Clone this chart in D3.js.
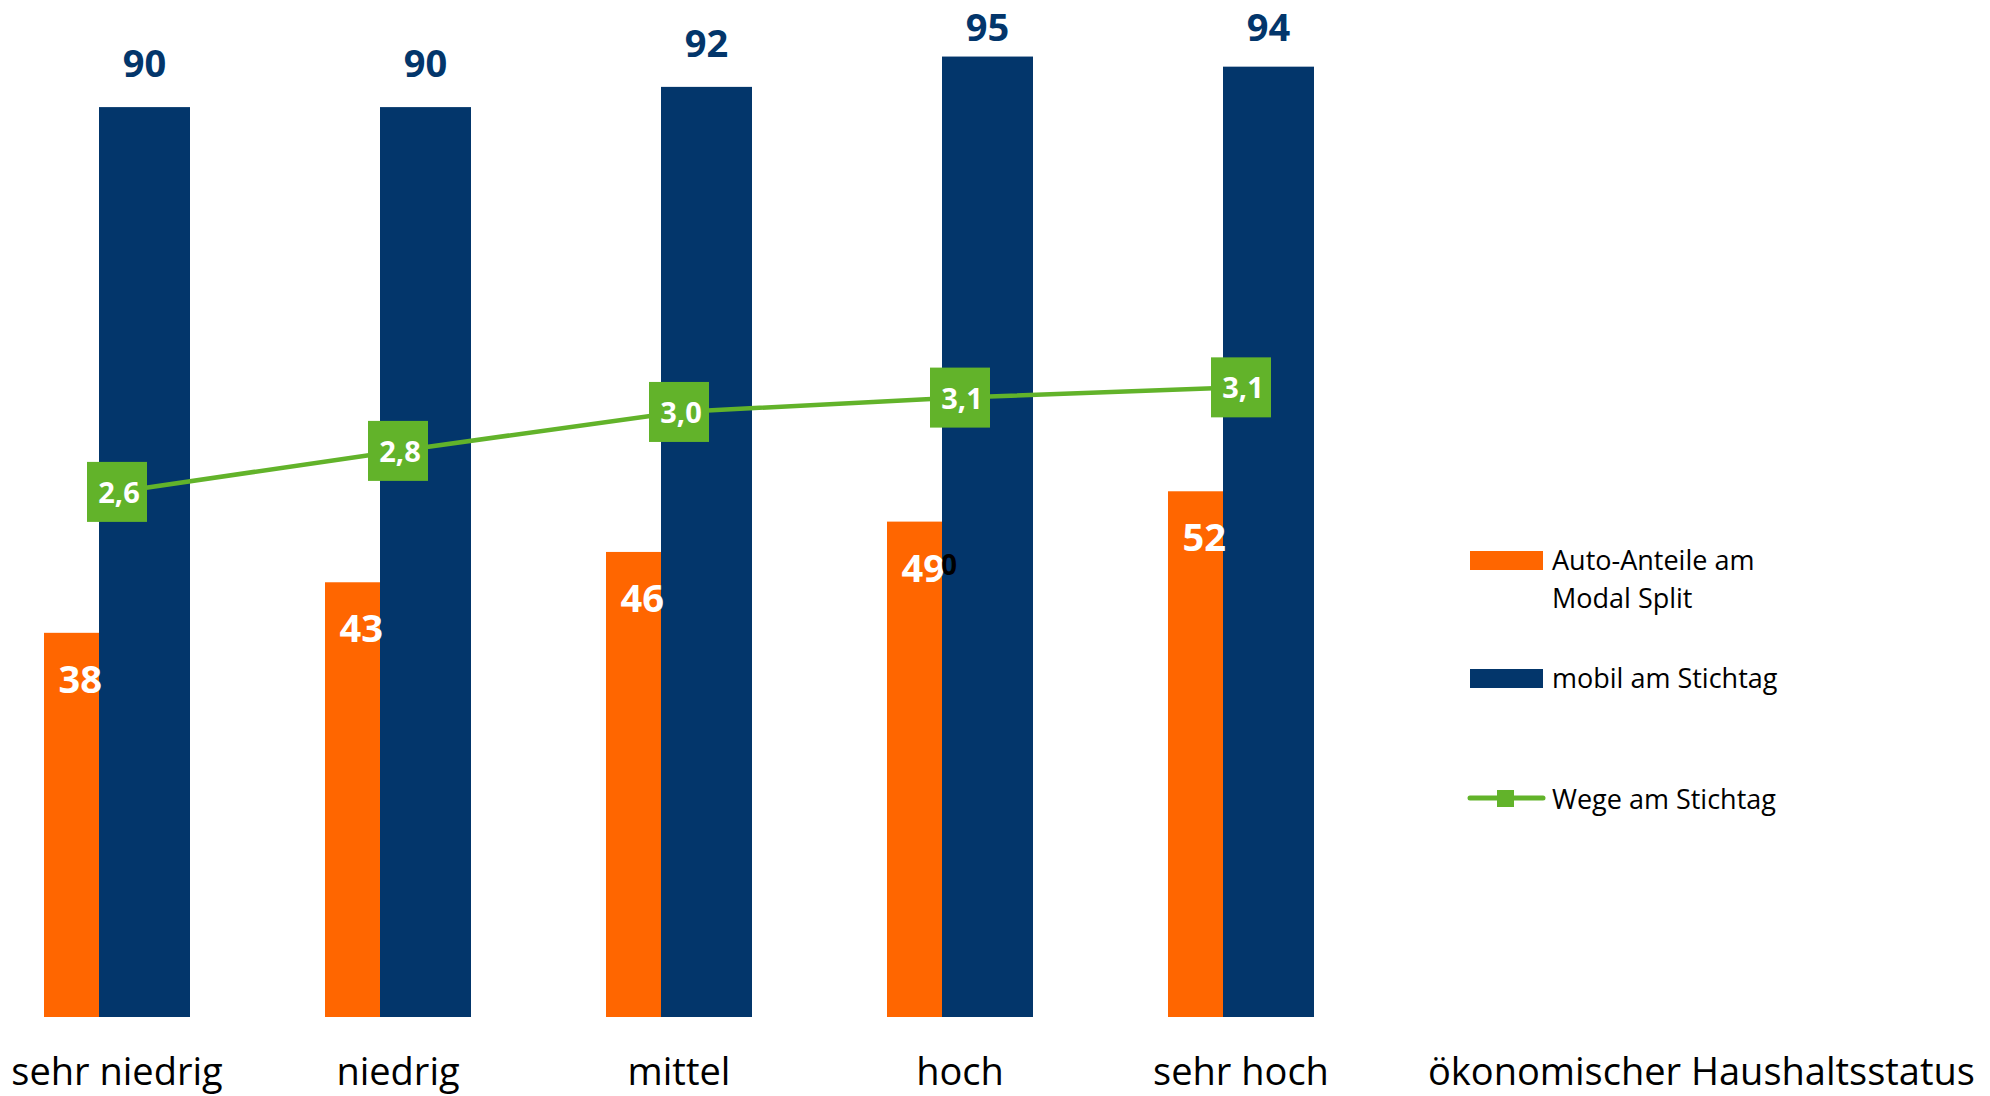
<!DOCTYPE html>
<html>
<head>
<meta charset="utf-8">
<script src="https://cdn.jsdelivr.net/npm/d3@7"></script>
<style>
  body { margin: 0; background: #fff; }
  svg text { font-family: "Open Sans", "Noto Sans", sans-serif; }
</style>
</head>
<body>
<div id="chart"></div>
<script>
// values
var categories = ["sehr niedrig", "niedrig", "mittel", "hoch", "sehr hoch"];
var autoAnteile = [38, 43, 46, 49, 52];
var mobil = [90, 90, 92, 95, 94];
var wege = [2.62, 2.82, 3.01, 3.08, 3.13];
var legendLabels = [["Auto-Anteile am", "Modal Split"], ["mobil am Stichtag"], ["Wege am Stichtag"]];
var axisTitle = "ökonomischer Haushaltsstatus";

var width = 1990, height = 1096;
var orange = "#ff6600", navy = "#03366b", green = "#62b32a";

var svg = d3.select("#chart").append("svg")
  .attr("width", width)
  .attr("height", height);

var x = d3.scalePoint().domain(categories).range([117, 1241]);
var y = d3.scaleLinear().domain([0, 100]).range([1017, 6]);
var y2 = d3.scaleLinear().domain([2, 4]).range([619, 209]);

var data = categories.map(function(c, i) {
  return { cat: c, auto: autoAnteile[i], mobil: mobil[i], wege: wege[i] };
});

// orange bars sit behind the blue ones
svg.selectAll(".auto")
  .data(data)
  .enter().append("rect")
    .attr("class", "auto")
    .attr("x", function(d) { return x(d.cat) - 73; })
    .attr("y", function(d) { return y(d.auto); })
    .attr("width", 55)
    .attr("height", function(d) { return y(0) - y(d.auto); })
    .style("fill", orange);

svg.selectAll(".mobil")
  .data(data)
  .enter().append("rect")
    .attr("class", "mobil")
    .attr("x", function(d) { return x(d.cat) - 18; })
    .attr("y", function(d) { return y(d.mobil); })
    .attr("width", 91)
    .attr("height", function(d) { return y(0) - y(d.mobil); })
    .style("fill", navy);

svg.selectAll(".autoLbl")
  .data(data)
  .enter().append("text")
    .attr("x", function(d) { return x(d.cat) - 15; })
    .attr("y", function(d) { return y(d.auto) + 60; })
    .attr("text-anchor", "end")
    .style("font-size", "38px")
    .style("font-weight", "bold")
    .style("fill", "#fff")
    .text(function(d) { return d.auto; });

// stray label in the original, next to "49"
svg.append("text")
  .attr("x", x("hoch") - 19)
  .attr("y", 575)
  .style("font-size", "28px")
  .style("font-weight", "bold")
  .style("fill", "#000")
  .text("0");

svg.selectAll(".mobilLbl")
  .data(data)
  .enter().append("text")
    .attr("x", function(d) { return x(d.cat) + 27.5; })
    .attr("y", function(d) { return Math.max(y(d.mobil) - 30, 41); })
    .attr("text-anchor", "middle")
    .style("font-size", "38px")
    .style("font-weight", "bold")
    .style("fill", navy)
    .text(function(d) { return d.mobil; });

var line = d3.line()
  .x(function(d) { return x(d.cat); })
  .y(function(d) { return y2(d.wege); });

svg.append("path")
  .datum(data)
  .attr("d", line)
  .style("fill", "none")
  .style("stroke", green)
  .style("stroke-width", 4.5);

svg.selectAll(".mark")
  .data(data)
  .enter().append("rect")
    .attr("x", function(d) { return x(d.cat) - 30; })
    .attr("y", function(d) { return y2(d.wege) - 30; })
    .attr("width", 60)
    .attr("height", 60)
    .style("fill", green);

var fmt = d3.format(".1f");
svg.selectAll(".wegeLbl")
  .data(data)
  .enter().append("text")
    .attr("x", function(d) { return x(d.cat) + 2; })
    .attr("y", function(d) { return y2(d.wege) + 11; })
    .attr("text-anchor", "middle")
    .style("font-size", "29px")
    .style("font-weight", "bold")
    .style("fill", "#fff")
    .text(function(d) { return fmt(d.wege).replace(".", ","); });

// category labels
svg.selectAll(".cat")
  .data(categories)
  .enter().append("text")
    .attr("x", function(d) { return x(d); })
    .attr("y", 1085)
    .attr("text-anchor", "middle")
    .style("font-size", "38px")
    .style("fill", "#000")
    .text(function(d) { return d; });

svg.append("text")
  .attr("x", 1428)
  .attr("y", 1085)
  .style("font-size", "38px")
  .style("fill", "#000")
  .text(axisTitle);

// legend
var lg = svg.append("g");
lg.append("rect").attr("x", 1470).attr("y", 551).attr("width", 73).attr("height", 19).style("fill", orange);
lg.append("rect").attr("x", 1470).attr("y", 669).attr("width", 73).attr("height", 19).style("fill", navy);
lg.append("line").attr("x1", 1470).attr("x2", 1543).attr("y1", 798).attr("y2", 798)
  .style("stroke", green).style("stroke-width", 5).style("stroke-linecap", "round");
lg.append("rect").attr("x", 1497).attr("y", 790).attr("width", 17).attr("height", 17).style("fill", green);

var lgY = [[570, 608], [688], [809]];
legendLabels.forEach(function(lines, i) {
  lines.forEach(function(t, j) {
    lg.append("text")
      .attr("x", 1552)
      .attr("y", lgY[i][j])
      .style("font-size", "27px")
      .style("fill", "#000")
      .text(t);
  });
});
</script>
</body>
</html>
